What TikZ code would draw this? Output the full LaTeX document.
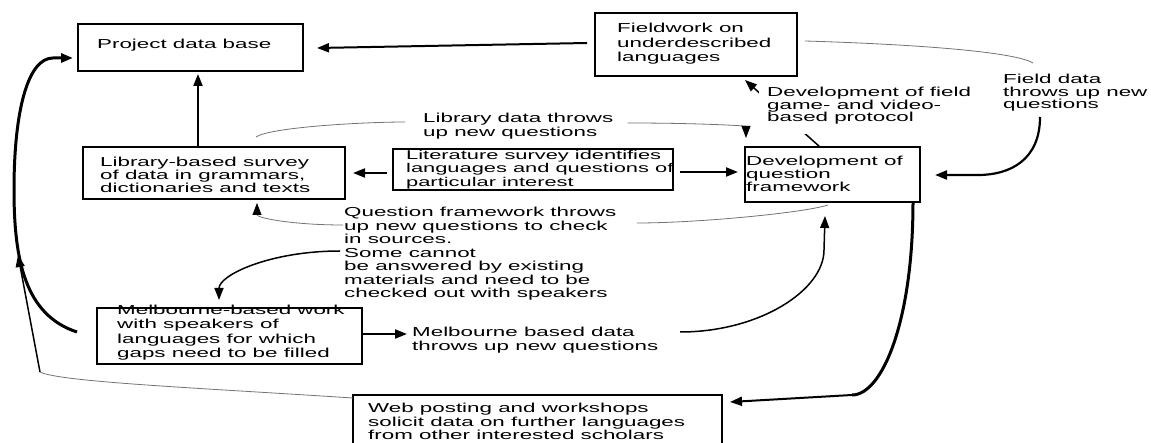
\documentclass[tikz,border=0pt]{standalone}
\usepackage{fontspec}
\setmainfont{Liberation Sans}[FakeStretch=1.72]
\usetikzlibrary{arrows.meta,calc}
\tikzset{
  box/.style={draw, line width=2.6pt, anchor=north west, inner sep=0pt, outer sep=0pt},
  txt/.style={anchor=north west, inner sep=0pt, align=left, font=\fontsize{13}{#1}\selectfont},
  txt/.default=13.5,
  tip/.style={-{Triangle[length=12pt,width=9pt,color=black]}},
  conn/.style={draw, line width=2pt, tip},
  connb/.style={draw, line width=1.5pt, tip},
  thickc/.style={draw, line width=3pt},
  thinl/.style={draw=black!55, line width=0.8pt},
}
\begin{document}
\begin{tikzpicture}[x=1pt,y=-1pt]
\clip (0,0) rectangle (1151,443);
\fill[white] (0,0) rectangle (1151,443);
% boxes
\node[box, minimum width=225pt, minimum height=47pt] (pdb) at (78,24) {};
\node[box, minimum width=202pt, minimum height=63pt] (field) at (595,13) {};
\node[box, minimum width=262pt, minimum height=52pt] (lib) at (83,147) {};
\node[box, minimum width=280pt, minimum height=41pt] (lit) at (393,149) {};
\node[box, minimum width=175pt, minimum height=55pt] (dev) at (745,147) {};
\node[box, minimum width=265pt, minimum height=56pt] (melb) at (97,308) {};
\node[box, minimum width=369pt, minimum height=60pt] (web) at (353,395) {};
% box texts
\node[txt] (tpdb) at (97,39) {Project data base};
\node[txt=14.5] (tfield) at (617,23) {Fieldwork on\\underdescribed\\languages};
\node[txt=13] (tlib) at (100,157) {Library-based survey\\of data in grammars,\\dictionaries and texts};
\node[txt, font=\fontsize{12.7}{13.5}\selectfont] (tlit) at (406,150) {Literature survey identifies\\languages and questions of\\particular interest};
\node[txt=13] (tdev) at (746,156) {Development of\\ question\\ framework};
\node[txt=14.3] (tmelb) at (117,305) {Melbourne-based work\\with speakers of\\languages for which\\gaps need to be filled};
\node[txt] (tweb) at (368,403) {Web posting and workshops\\solicit data on further languages\\from other interested scholars};
% free labels
\node[txt=14] (tlibq) at (423,113) {Library data throws\\up new questions};
\node[txt=12.5] (tfd) at (1003,74) {Field data\\throws up new\\questions};
\node[txt] (tq) at (344,207) {Question framework throws\\up new questions to check\\in sources.\\Some cannot\\be answered by existing\\materials and need to be\\checked out with speakers};
\node[txt=14] (tmd) at (412,327) {Melbourne based data\\throws up new questions};
% connectors
\draw[conn] ($(field.north west)+(-8,30)$) -- ($(pdb.north east)+(14,24)$);
\draw[conn] ($(lib.north west)+(115,0)$) -- ($(pdb.south west)+(120,3)$);
\draw[conn] ($(lit.north west)+(-6,24)$) -- ($(lib.north east)+(8,26)$);
\draw[conn] ($(lit.north east)+(7,23)$) -- ($(dev.north west)+(-7,25)$);
% library data throws up new questions
\draw[thinl] ($(lib.north west)+(173,-10)$) .. controls +(15,-10) and +(-40,0) .. ($(tlibq.north west)+(-18,9)$);
\draw[thinl, tip] ($(tlibq.north east)+(14,10)$) .. controls +(75,0) and +(0,-12) .. ($(dev.north west)+(1,-9)$);
% field game protocol
\draw[connb] ($(dev.north west)+(75,0)$) -- ($(field.south west)+(150,4)$);
\node[txt=12.5, fill=white, inner xsep=8pt, inner ysep=10pt, anchor=north west] (tproto) at (759,77) {Development of field\\game- and video-\\based protocol};
% field data
\draw[thinl] ($(field.north east)+(8,28)$) .. controls +(100,3) and +(-20,-12) .. ($(tfd.north west)+(30,-11)$);
\draw[line width=2.2pt, tip] ($(tfd.north west)+(37,43)$) .. controls +(0,43) and +(32,0) .. ($(dev.north east)+(58,28)$) -- ($(dev.north east)+(15,28)$);
% question framework
\draw[thinl] ($(dev.south west)+(83,3)$) .. controls +(-25,8) and +(60,0) .. ($(tq.north west)+(293,16)$);
\draw[thinl, tip] ($(tq.north west)+(-1,18)$) .. controls +(-50,0) and +(0,15) .. ($(lib.south west)+(174,4)$);
\draw[connb] ($(tq.north west)+(-4,44)$) .. controls +(-70,0) and +(0,-25) .. ($(melb.north west)+(122,-8)$);
% melbourne
\draw[conn] ($(melb.north west)+(266,26)$) -- ($(tmd.north west)+(-5,7)$);
\draw[connb] ($(tmd.north west)+(268,5)$) .. controls +(80,0) and +(0,40) .. ($(dev.south west)+(79,48)$) -- ($(dev.south west)+(80,14)$);
% dev to web
\draw[thickc] ($(dev.south east)+(-7,0)$) .. controls +(0,120) and +(30,0) .. ($(web.north east)+(130,0)$) coordinate (wr);
\draw[conn] (wr) -- ($(web.north east)+(8,7)$);
% left thick curve
\coordinate (lm) at (14,190);
\draw[thickc, tip] ($(melb.north west)+(-20,24)$) .. controls +(-52,-17) and +(0,70) .. (lm) .. controls +(0,-80) and +(-25,0) .. ($(pdb.north west)+(-25,34)$) -- ($(pdb.north west)+(-5,34)$);
% web left
\coordinate (wl) at (40,372);
\coordinate (wt) at (18,255);
\draw[thinl] ($(web.north west)+(0,3)$) .. controls (200,388) and (60,382) .. (wl);
\draw[connb] (wl) -- (wt);
\end{tikzpicture}
\end{document}
